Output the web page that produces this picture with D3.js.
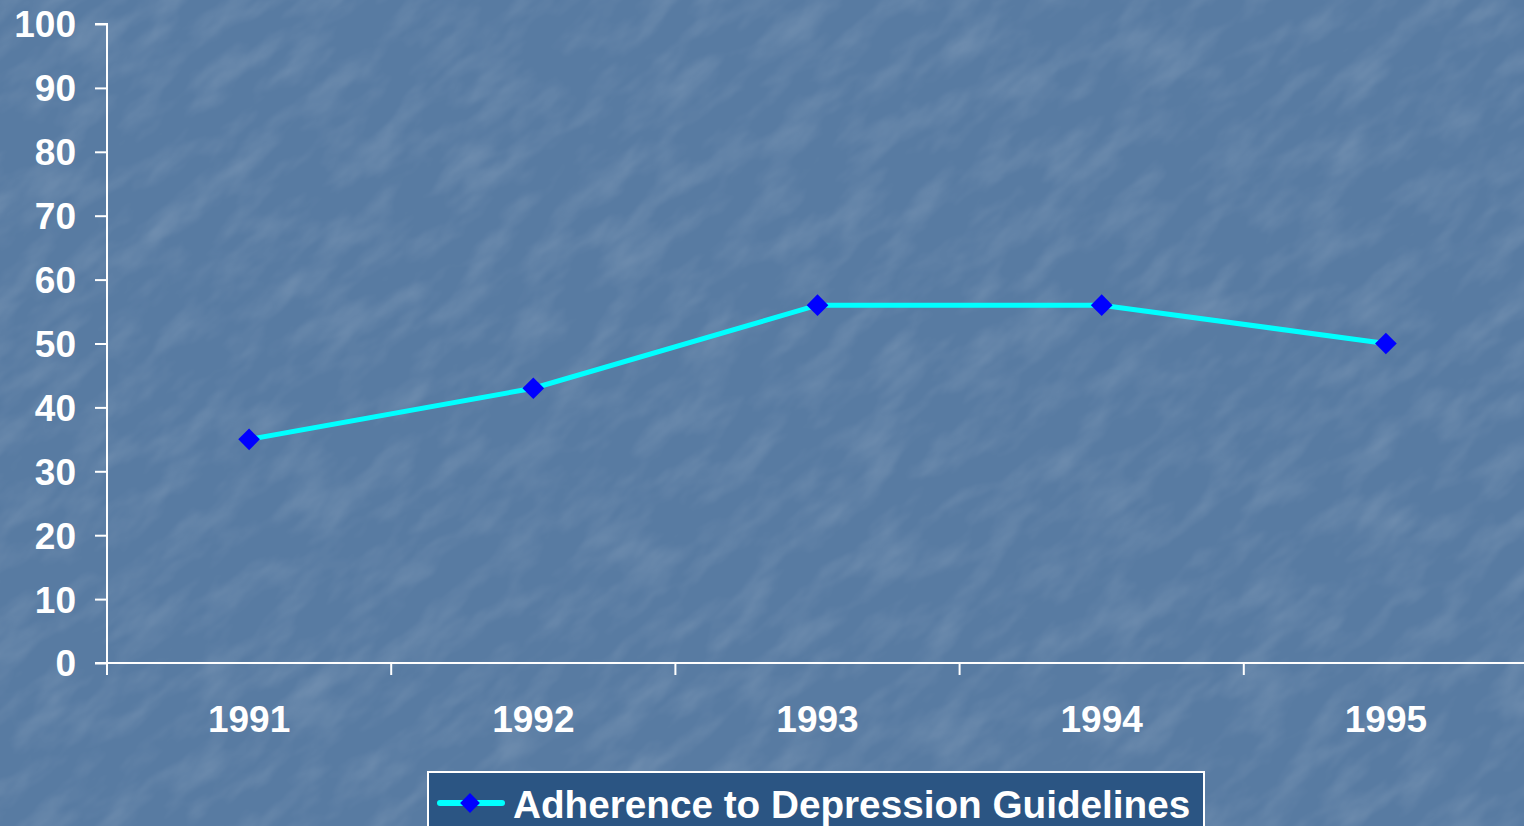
<!DOCTYPE html>
<html lang="en">
<head>
  <meta charset="UTF-8">
  <title>Adherence to Depression Guidelines</title>
  <script src="https://d3js.org/d3.v7.min.js"></script>
  <style>
    body { margin: 0; overflow: hidden; background: #5a7da4; }
  </style>
</head>
<body>

<div id="chart"></div>

<script>
  // data
  const years = ["1991", "1992", "1993", "1994", "1995"];
  const adherence = [35, 43, 56, 56, 50];
  const yTicks = [0, 10, 20, 30, 40, 50, 60, 70, 80, 90, 100];
  const seriesName = "Adherence to Depression Guidelines";

  const width = 1524;
  const height = 826;
  const margin = { left: 107, right: -4, top: 24, bottom: 163 };

  const svg = d3.select("#chart")
    .append("svg")
    .attr("width", width)
    .attr("height", height);

  // textured blue background
  const defs = svg.append("defs");
  const filt = defs.append("filter")
    .attr("id", "stone")
    .attr("x", 0).attr("y", 0).attr("width", "100%").attr("height", "100%");
  filt.append("feTurbulence")
    .attr("type", "fractalNoise")
    .attr("baseFrequency", "0.015 0.04")
    .attr("numOctaves", 4)
    .attr("seed", 7)
    .attr("result", "noise");
  filt.append("feColorMatrix")
    .attr("in", "noise")
    .attr("type", "matrix")
    .attr("values", "0 0 0 0 1  0 0 0 0 1  0 0 0 0 1  0.9 0 0 0 -0.38")
    .attr("result", "spots");
  filt.append("feGaussianBlur").attr("in", "spots").attr("stdDeviation", 1);

  svg.append("rect")
    .attr("width", width).attr("height", height)
    .attr("fill", "#587ba2");
  svg.append("g")
    .attr("transform", "rotate(-40 762 413)")
    .append("rect")
    .attr("x", -400).attr("y", -500)
    .attr("width", width + 800).attr("height", height + 1000)
    .attr("fill", "#fff")
    .attr("filter", "url(#stone)")
    .attr("opacity", 0.3);

  // scales
  const x = d3.scaleBand()
    .domain(years)
    .range([margin.left, width - margin.right]);

  const y = d3.scaleLinear()
    .domain([0, 100])
    .range([height - margin.bottom, margin.top]);

  const font = "'Liberation Sans', Arial, sans-serif";

  // y axis
  const yAxis = svg.append("g")
    .attr("transform", `translate(${margin.left},0)`)
    .call(d3.axisLeft(y).tickValues(yTicks).tickSize(12).tickPadding(19));
  yAxis.select(".domain").attr("stroke", "#fff").attr("stroke-width", 2)
    .attr("d", `M-12,${y(100)}H0V${y(0) + 12}`);
  yAxis.selectAll(".tick line").attr("stroke", "#fff").attr("stroke-width", 2);
  yAxis.selectAll(".tick text")
    .attr("fill", "#fff")
    .attr("font-family", font)
    .attr("font-weight", "bold")
    .attr("font-size", "37px")
    .attr("dy", "0.35em");

  // x axis
  const xAxis = svg.append("g")
    .attr("transform", `translate(0,${y(0)})`)
    .call(d3.axisBottom(x).tickSize(0).tickPadding(56));
  xAxis.select(".domain").attr("stroke", "#fff").attr("stroke-width", 2)
    .attr("d", `M${margin.left - 12},0H${width}`);
  xAxis.selectAll(".tick text")
    .attr("fill", "#fff")
    .attr("font-family", font)
    .attr("font-weight", "bold")
    .attr("font-size", "37px")
    .attr("dy", "0.35em");

  // category boundary ticks
  svg.append("g")
    .selectAll("line")
    .data(years.slice(1))
    .join("line")
    .attr("x1", d => x(d)).attr("x2", d => x(d))
    .attr("y1", y(0)).attr("y2", y(0) + 12)
    .attr("stroke", "#fff").attr("stroke-width", 2);

  // series line
  const line = d3.line()
    .x((d, i) => x(years[i]) + x.bandwidth() / 2)
    .y(d => y(d));

  svg.append("path")
    .datum(adherence)
    .attr("d", line)
    .attr("fill", "none")
    .attr("stroke", "#00ffff")
    .attr("stroke-width", 5);

  const diamond = d3.symbol().type(d3.symbolDiamond2).size(300);

  svg.append("g")
    .selectAll("path")
    .data(adherence)
    .join("path")
    .attr("d", diamond)
    .attr("transform", (d, i) => `translate(${x(years[i]) + x.bandwidth() / 2},${y(d)})`)
    .attr("fill", "#0000ff");

  // legend
  const legend = svg.append("g").attr("transform", "translate(428,772)");
  legend.append("rect")
    .attr("width", 776).attr("height", 70)
    .attr("fill", "#2b5583")
    .attr("stroke", "#fff").attr("stroke-width", 2);
  legend.append("line")
    .attr("x1", 12).attr("x2", 74)
    .attr("y1", 31).attr("y2", 31)
    .attr("stroke", "#00ffff").attr("stroke-width", 6)
    .attr("stroke-linecap", "round");
  legend.append("path")
    .attr("d", d3.symbol().type(d3.symbolDiamond2).size(250))
    .attr("transform", "translate(42,31)")
    .attr("fill", "#0000ff");
  legend.append("text")
    .attr("x", 85).attr("y", 32)
    .attr("dy", "0.35em")
    .attr("fill", "#fff")
    .attr("font-family", font)
    .attr("font-weight", "bold")
    .attr("font-size", "38.7px")
    .text(seriesName);
</script>

</body>
</html>
